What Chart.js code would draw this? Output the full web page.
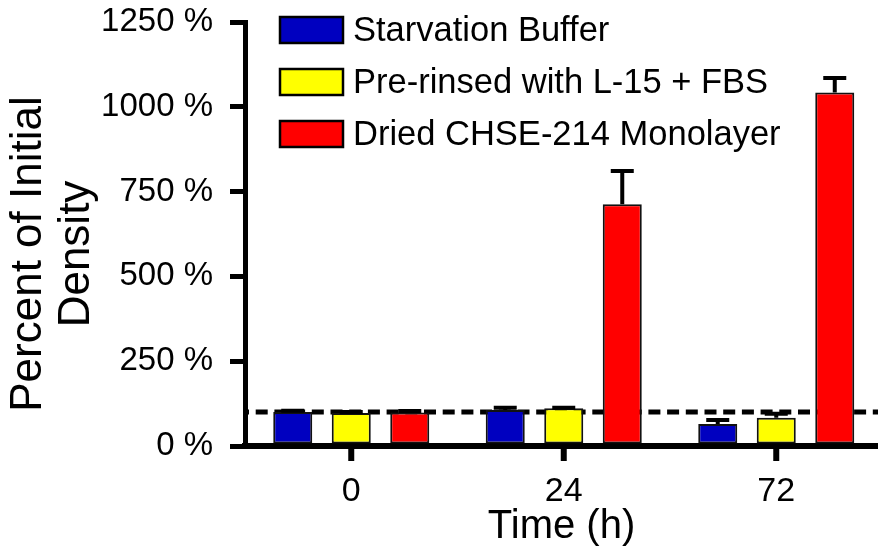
<!DOCTYPE html>
<html>
<head>
<meta charset="utf-8">
<script src="https://cdn.jsdelivr.net/npm/chart.js@4/dist/chart.umd.min.js"></script>
<style>
  html, body { margin: 0; padding: 0; background: #fff; }
  #densityChart { display: block; }
</style>
</head>
<body>
<canvas id="densityChart" width="878" height="554"></canvas>
<script>
const timeLabels = ["0", "24", "72"];

const seriesNames = ["Starvation Buffer", "Pre-rinsed with L-15 + FBS", "Dried CHSE-214 Monolayer"];
const seriesColors = ["#0000c0", "#ffff00", "#ff0000"];

// mean percent of initial density, and upper error (SEM)
const starvationBuffer = [100, 106, 65];
const starvationBufferErr = [4, 7, 12];
const preRinsed = [97, 111, 83];
const preRinsedErr = [3, 2, 12];
const driedMonolayer = [99, 713, 1042];
const driedMonolayerErr = [4, 98, 43];

const yTicks = [0, 250, 500, 750, 1000, 1250];
const baselineValue = 100;

const yTitleLines = ["Percent of Initial", "Density"];
const xTitle = "Time (h)";

const FONT = "'Liberation Sans', Arial, Helvetica, sans-serif";

const errorData = [starvationBufferErr, preRinsedErr, driedMonolayerErr];

// the time groups sit on a numeric axis so the last group can run close to the edge
const groupIndex = timeLabels.map((_, i) => i);
const groupWidthPx = 212.5;
const plotLeftPx = 245;
const canvasWidth = 878;

// dashed 100 % line, behind the bars
const baselinePlugin = {
  id: "baseline",
  beforeDatasetsDraw(chart) {
    const { ctx, scales: { y } } = chart;
    const py = y.getPixelForValue(baselineValue);
    ctx.save();
    ctx.strokeStyle = "#000";
    ctx.lineWidth = 5;
    ctx.setLineDash([12, 6.7]);
    ctx.lineDashOffset = 8;
    ctx.beginPath();
    ctx.moveTo(chart.chartArea.left, py);
    ctx.lineTo(chart.width, py);
    ctx.stroke();
    ctx.restore();
  }
};

// upward-only error bars with a cap, plus the tick marks under each time group
const errorBarPlugin = {
  id: "errorBars",
  afterDatasetsDraw(chart) {
    const { ctx, scales: { x, y } } = chart;
    ctx.save();
    ctx.strokeStyle = "#000";
    ctx.lineWidth = 4;
    chart.data.datasets.forEach((ds, di) => {
      const meta = chart.getDatasetMeta(di);
      meta.data.forEach((bar, i) => {
        const top = y.getPixelForValue(ds.data[i] + errorData[di][i]);
        ctx.beginPath();
        ctx.moveTo(bar.x, bar.y);
        ctx.lineTo(bar.x, top);
        ctx.moveTo(bar.x - 11.5, top);
        ctx.lineTo(bar.x + 11.5, top);
        ctx.stroke();
      });
    });

    ctx.lineWidth = 6;
    groupIndex.forEach(v => {
      const px = x.getPixelForValue(v);
      ctx.beginPath();
      ctx.moveTo(px, x.top);
      ctx.lineTo(px, x.top + 15);
      ctx.stroke();
    });
    ctx.restore();
  }
};

// boxed legend in the upper left of the plot, and the two-line y title
const decorPlugin = {
  id: "decor",
  afterDraw(chart) {
    const ctx = chart.ctx;
    ctx.save();
    chart.data.datasets.forEach((ds, i) => {
      const bx = 280, by = 17 + i * 52;
      ctx.fillStyle = ds.backgroundColor;
      ctx.fillRect(bx, by, 63, 26);
      ctx.strokeStyle = "#000";
      ctx.lineWidth = 2.5;
      ctx.strokeRect(bx, by, 63, 26);
      ctx.fillStyle = "#000";
      ctx.font = `34.5px ${FONT}`;
      ctx.textAlign = "left";
      ctx.textBaseline = "middle";
      ctx.fillText(ds.label, 353, by + 14);
    });

    ctx.translate(0, 254);
    ctx.rotate(-Math.PI / 2);
    ctx.font = `44px ${FONT}`;
    ctx.textAlign = "center";
    ctx.textBaseline = "middle";
    ctx.fillStyle = "#000";
    yTitleLines.forEach((line, i) => {
      ctx.fillText(line, 0, 28.5 + i * 48);
    });
    ctx.restore();
  }
};

const ctx = document.getElementById("densityChart").getContext("2d");

new Chart(ctx, {
  type: "bar",
  data: {
    labels: groupIndex,
    datasets: [
      { label: seriesNames[0], data: starvationBuffer, backgroundColor: seriesColors[0] },
      { label: seriesNames[1], data: preRinsed, backgroundColor: seriesColors[1] },
      { label: seriesNames[2], data: driedMonolayer, backgroundColor: seriesColors[2] }
    ].map(ds => ({
      ...ds,
      borderColor: "#111",
      borderWidth: 2,
      borderSkipped: false,
      categoryPercentage: 0.826,
      barPercentage: 0.667
    }))
  },
  options: {
    responsive: false,
    animation: false,
    maintainAspectRatio: false,
    layout: { padding: { top: 22, right: 0, left: 0, bottom: 0 } },
    plugins: {
      legend: { display: false },
      tooltip: { enabled: false }
    },
    scales: {
      x: {
        type: "linear",
        offset: false,
        min: -0.5,
        max: -0.5 + (canvasWidth - plotLeftPx) / groupWidthPx,
        afterBuildTicks(scale) {
          scale.ticks = groupIndex.map(v => ({ value: v }));
        },
        grid: { display: false },
        border: { display: true, width: 6, color: "#000" },
        ticks: {
          color: "#000",
          padding: 17,
          autoSkip: false,
          maxRotation: 0,
          font: { family: FONT, size: 34 },
          callback: v => timeLabels[v]
        },
        title: {
          display: true,
          text: xTitle,
          color: "#000",
          padding: { top: 0, bottom: 3 },
          font: { family: FONT, size: 40 }
        },
        afterFit(scale) {
          scale.height = 108;
          scale.paddingLeft = 0;
          scale.paddingRight = 0;
        }
      },
      y: {
        min: 0,
        max: 1250,
        afterBuildTicks(scale) {
          scale.ticks = yTicks.map(v => ({ value: v }));
        },
        grid: {
          drawOnChartArea: false,
          drawTicks: true,
          tickLength: 15,
          lineWidth: 5,
          color: "#000"
        },
        border: { display: true, width: 5, color: "#000" },
        ticks: {
          color: "#000",
          padding: 17,
          font: { family: FONT, size: 33 },
          callback: v => v + " %"
        },
        afterFit(scale) {
          scale.width = plotLeftPx;
          scale.paddingTop = 0;
          scale.paddingBottom = 0;
        }
      }
    }
  },
  plugins: [baselinePlugin, errorBarPlugin, decorPlugin]
});
</script>
</body>
</html>
